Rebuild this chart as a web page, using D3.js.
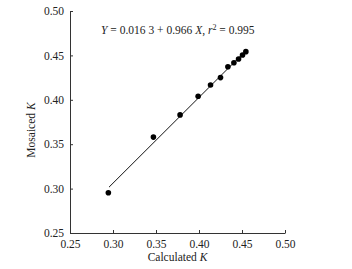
<!DOCTYPE html>
<html>
<head>
<meta charset="utf-8">
<script src="https://cdn.jsdelivr.net/npm/d3@7"></script>
<style>
  body { margin: 0; background: #fff; }
  text { font-family: "Liberation Serif", "DejaVu Serif", serif; fill: #222; }
</style>
</head>
<body>
<div id="chart"></div>
<script>
// data
const calculatedK = [0.2946, 0.347, 0.378, 0.399, 0.4134, 0.425, 0.4336, 0.4406, 0.446, 0.4506, 0.4545];
const mosaicedK = [0.2954, 0.358, 0.383, 0.404, 0.4166, 0.425, 0.4373, 0.4418, 0.446, 0.4505, 0.4542];
const tickValues = [0.25, 0.30, 0.35, 0.40, 0.45, 0.50];
const fitIntercept = 0.0163;
const fitSlope = 0.966;
const fitRange = [0.2954, 0.455];

const width = 352, height = 269;
const margin = { left: 70, top: 11, right: 67, bottom: 36 };

const svg = d3.select("#chart").append("svg")
  .attr("width", width)
  .attr("height", height);

// scales
const x = d3.scaleLinear().domain([0.25, 0.5]).range([margin.left, width - margin.right]);
const y = d3.scaleLinear().domain([0.25, 0.5]).range([height - margin.bottom, margin.top]);

// axes, ticks point inward
svg.append("g")
  .attr("transform", "translate(0," + (height - margin.bottom) + ")")
  .call(d3.axisBottom(x).tickValues(tickValues).tickFormat(d3.format(".2f")).tickSizeInner(-3).tickSizeOuter(0).tickPadding(7));

svg.append("g")
  .attr("transform", "translate(" + margin.left + ",0)")
  .call(d3.axisLeft(y).tickValues(tickValues).tickFormat(d3.format(".2f")).tickSizeInner(-3).tickSizeOuter(0).tickPadding(6));

svg.selectAll(".domain, .tick line").attr("stroke", "#333").attr("stroke-width", 1);
svg.selectAll(".tick text")
  .style("font-family", "'Liberation Serif', serif")
  .style("font-size", "11.5px")
  .attr("fill", "#222");

// fitted line
svg.append("line")
  .attr("x1", x(fitRange[0]))
  .attr("y1", y(fitIntercept + fitSlope * fitRange[0]))
  .attr("x2", x(fitRange[1]))
  .attr("y2", y(fitIntercept + fitSlope * fitRange[1]))
  .attr("stroke", "#111")
  .attr("stroke-width", 1);

// points
svg.selectAll(".pt")
  .data(calculatedK.map((d, i) => ({ x: d, y: mosaicedK[i] })))
  .enter()
  .append("circle")
  .attr("class", "pt")
  .attr("cx", (d) => x(d.x))
  .attr("cy", (d) => y(d.y))
  .attr("r", 2.8)
  .attr("fill", "#000");

// equation
const eq = svg.append("text")
  .attr("x", 101)
  .attr("y", 34)
  .style("font-size", "11.5px");
eq.append("tspan").style("font-style", "italic").text("Y");
eq.append("tspan").text(" = 0.016 3 + 0.966 ");
eq.append("tspan").style("font-style", "italic").text("X");
eq.append("tspan").text(", ");
eq.append("tspan").style("font-style", "italic").text("r");
eq.append("tspan").attr("dy", -4).style("font-size", "8px").text("2");
eq.append("tspan").attr("dy", 4).text(" = 0.995");

// axis labels
const xl = svg.append("text")
  .attr("x", x(0.375))
  .attr("y", 261)
  .attr("text-anchor", "middle")
  .style("font-size", "11.5px");
xl.append("tspan").text("Calculated ");
xl.append("tspan").style("font-style", "italic").text("K");

const yl = svg.append("text")
  .attr("transform", "translate(35,130) rotate(-90)")
  .attr("text-anchor", "middle")
  .style("font-size", "11.5px");
yl.append("tspan").text("Mosaiced ");
yl.append("tspan").style("font-style", "italic").text("K");
</script>
</body>
</html>
